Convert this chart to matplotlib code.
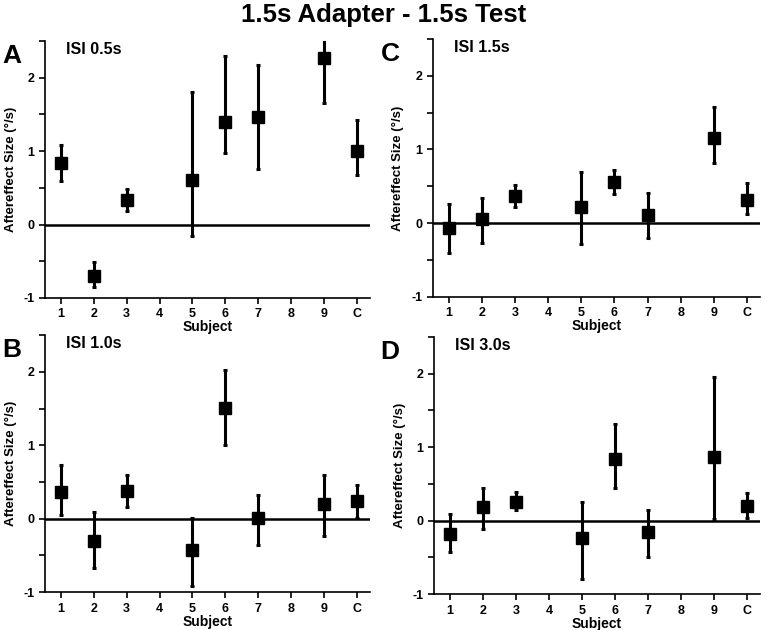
import matplotlib
matplotlib.use("Agg")
import matplotlib.pyplot as plt

plt.rcParams['font.family'] = ['Liberation Sans', 'DejaVu Sans']
plt.rcParams['font.weight'] = 'bold'

# subjects on the x axis (position 8 has no data)
tick_labels = ['1', '2', '3', '4', '5', '6', '7', '8', '9', 'C']
subj_pos = [1, 2, 3, 5, 6, 7, 9, 10]

# panel A, ISI 0.5s
a_mean = [0.84, -0.70, 0.34, 0.60, 1.40, 1.46, 2.27, 1.00]
a_hi = [1.09, -0.51, 0.49, 1.81, 2.30, 2.17, 2.60, 1.42]
a_lo = [0.59, -0.85, 0.19, -0.15, 0.97, 0.75, 1.65, 0.67]

# panel B, ISI 1.0s
b_mean = [0.36, -0.30, 0.38, -0.43, 1.51, 0.01, 0.20, 0.24]
b_hi = [0.73, 0.09, 0.60, 0.01, 2.02, 0.32, 0.59, 0.46]
b_lo = [0.05, -0.67, 0.16, -0.92, 1.01, -0.36, -0.23, 0.01]

# panel C, ISI 1.5s
c_mean = [-0.07, 0.05, 0.37, 0.22, 0.56, 0.11, 1.16, 0.32]
c_hi = [0.26, 0.34, 0.52, 0.70, 0.72, 0.41, 1.58, 0.54]
c_lo = [-0.40, -0.27, 0.22, -0.28, 0.39, -0.20, 0.81, 0.12]

# panel D, ISI 3.0s
d_mean = [-0.18, 0.18, 0.26, -0.24, 0.84, -0.15, 0.86, 0.20]
d_hi = [0.09, 0.45, 0.39, 0.25, 1.31, 0.15, 1.95, 0.38]
d_lo = [-0.43, -0.11, 0.14, -0.80, 0.44, -0.50, 0.02, 0.04]

panels = [
    ('A', 'ISI 0.5s', a_mean, a_lo, a_hi, [0.0587, 0.527, 0.424, 0.408]),
    ('C', 'ISI 1.5s', c_mean, c_lo, c_hi, [0.5645, 0.529, 0.4265, 0.409]),
    ('B', 'ISI 1.0s', b_mean, b_lo, b_hi, [0.0587, 0.060, 0.424, 0.408]),
    ('D', 'ISI 3.0s', d_mean, d_lo, d_hi, [0.566, 0.057, 0.425, 0.408]),
]

fig = plt.figure(figsize=(7.67, 6.30), dpi=100)
fig.text(0.5, 0.976, '1.5s Adapter - 1.5s Test', ha='center', va='center',
         fontsize=18.5, fontweight='bold')

for letter, isi, mean, lo, hi, rect in panels:
    ax = fig.add_axes(rect)
    err = [[m - l for m, l in zip(mean, lo)], [h - m for m, h in zip(mean, hi)]]
    ax.axhline(0, color='black', lw=1.8, zorder=1)
    ax.errorbar(subj_pos, mean, yerr=err, fmt='s', color='black', ms=8,
                elinewidth=2.2, capsize=1.6, capthick=2.2, zorder=3)
    ax.set_xlim(0.52, 10.4)
    ax.set_ylim(-1, 2.5)
    ax.set_xticks(range(1, 11))
    ax.set_xticklabels(tick_labels)
    yt = [-1, -0.5, 0, 0.5, 1, 1.5, 2, 2.5]
    ax.set_yticks(yt)
    ax.set_yticklabels(['-1', '', '0', '', '1', '', '2', ''])
    ax.tick_params(labelsize=9, width=1.2, length=4)
    for s in ['top', 'right']:
        ax.spines[s].set_visible(False)
    ax.spines['left'].set_linewidth(1.2)
    ax.spines['bottom'].set_linewidth(1.2)
    ax.set_xlabel('Subject', fontsize=10, fontweight='bold', labelpad=0)
    ax.set_ylabel('Aftereffect Size (°/s)', fontsize=9.5, fontweight='bold', labelpad=5)
    ax.text(1.15, 2.38, isi, fontsize=11.5, fontweight='bold', va='center')
    fx = 0.003 if letter in 'AB' else 0.496
    fy = rect[1] + rect[3] - 0.005
    fig.text(fx, fy, letter, fontsize=19, fontweight='bold', va='top', ha='left')

fig.savefig('out.png', dpi=100)
